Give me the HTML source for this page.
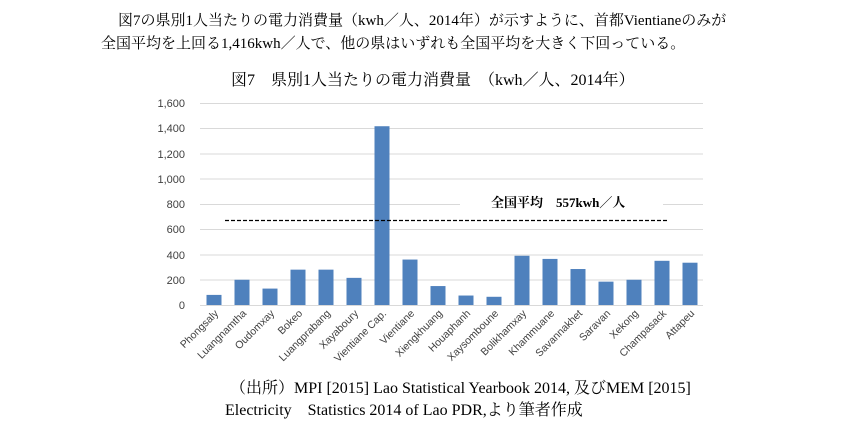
<!DOCTYPE html>
<html><head><meta charset="utf-8"><style>
body{margin:0;background:#fff;width:864px;height:427px;overflow:hidden;font-family:"Liberation Serif","Noto Serif CJK SC","Noto Sans CJK JP",serif;}
.t{position:absolute;white-space:nowrap;font-size:15px;color:#000}
</style></head><body>
<div class="t" style="left:118px;top:9px">図7の県別1人当たりの電力消費量（kwh／人、2014年）が示すように、首都Vientianeのみが</div>
<div class="t" style="left:101px;top:32px">全国平均を上回る1,416kwh／人で、他の県はいずれも全国平均を大きく下回っている。</div>
<div class="t" style="left:231px;top:67px;font-size:16px">図7　県別1人当たりの電力消費量　（kwh／人、2014年）</div>
<div class="t" style="left:230px;top:375px;font-size:16px">（出所）MPI [2015] Lao Statistical Yearbook 2014, 及びMEM [2015]</div>
<div class="t" style="left:225px;top:397px;font-size:16px">Electricity　Statistics 2014 of Lao PDR,より筆者作成</div>
<svg width="864" height="427" style="position:absolute;left:0;top:0" font-family="Liberation Sans, sans-serif">
<g stroke="#d9d9d9" stroke-width="1">
<line x1="200" x2="703" y1="103.5" y2="103.5"/><line x1="200" x2="703" y1="128.5" y2="128.5"/>
<line x1="200" x2="703" y1="154" y2="154"/><line x1="200" x2="703" y1="179" y2="179"/>
<line x1="200" x2="703" y1="204.5" y2="204.5"/><line x1="200" x2="703" y1="229.5" y2="229.5"/>
<line x1="200" x2="703" y1="255" y2="255"/><line x1="200" x2="703" y1="280" y2="280"/>
<line x1="200" x2="703" y1="305.5" y2="305.5"/></g>
<g font-size="11" fill="#404040" text-anchor="end">
<text x="185" y="107">1,600</text><text x="185" y="132">1,400</text><text x="185" y="158">1,200</text>
<text x="185" y="183">1,000</text><text x="185" y="208">800</text><text x="185" y="233">600</text>
<text x="185" y="259">400</text><text x="185" y="284">200</text><text x="185" y="309">0</text></g>
<rect x="460" y="195" width="203" height="16" fill="#fff"/>
<text x="491" y="207" font-size="13" font-weight="bold" font-family="Liberation Serif, Noto Serif CJK SC, serif">全国平均　557kwh／人</text>
<g fill="#4f81bd" id="b"></g>
<line x1="225" x2="669" y1="220.5" y2="220.5" stroke="#000" stroke-width="1.2" stroke-dasharray="4,2"/>
<g id="l" font-size="10.5" fill="#404040" text-anchor="end"></g>
</svg>
<script>
var v=[80,200,130,280,280,215,1416,360,150,75,65,390,365,285,185,200,350,335];
var n=["Phongsaly","Luangnamtha","Oudomxay","Bokeo","Luangprabang","Xayaboury","Vientiane Cap.","Vientiane","Xiengkhuang","Houaphanh","Xaysomboune","Bolikhamxay","Khammuane","Savannakhet","Saravan","Xekong","Champasack","Attapeu"];
var b=document.getElementById('b'),l=document.getElementById('l'),s="",t="";
for(var i=0;i<18;i++){var c=214+i*28,h=v[i]*0.12625;
s+='<rect x="'+(c-7.5)+'" y="'+(305-h)+'" width="15" height="'+h+'"/>';
t+='<text transform="translate('+(c+5)+',314) rotate(-45)">'+n[i]+'</text>';}
b.innerHTML=s;l.innerHTML=t;
</script>
</body></html>
